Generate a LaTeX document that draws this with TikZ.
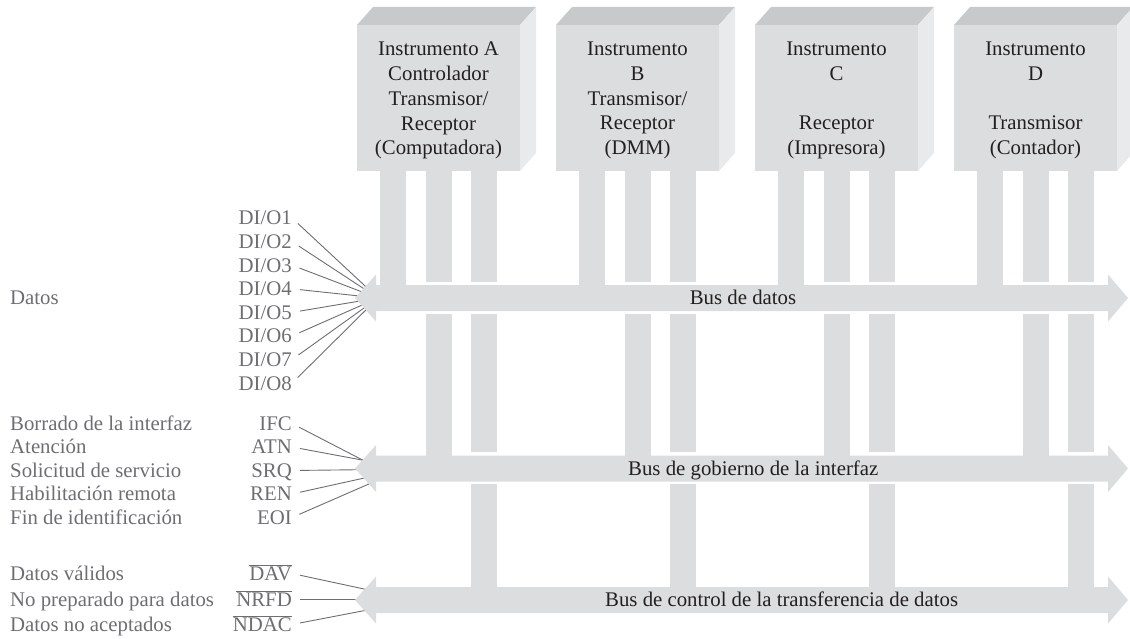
\documentclass[tikz,border=0pt]{standalone}
\usepackage{fontspec}
\setmainfont{Liberation Serif}
\definecolor{barfill}{RGB}{220,221,222}
\definecolor{topface}{RGB}{200,201,203}
\definecolor{sideface}{RGB}{233,234,235}
\definecolor{labelgray}{RGB}{109,110,113}
\definecolor{darktext}{RGB}{35,31,32}
\newcommand\gpibfont{\fontsize{20.8}{24.7}\selectfont}
% instrument box: #1 = left x of front face, #2 = node name, #3 = text
\newcommand\instbox[3]{%
  \fill[barfill] (#1,25) rectangle ++(163,146);
  \fill[topface] (#1,25) -- ++(16,-18) -- ++(163,0) -- ++(-16,18) -- cycle;
  \fill[sideface] (#1+163,25) -- ++(16,-18) -- ++(0,146) -- ++(-16,18) -- cycle;
  \node[boxtext] (#2) at (#1+81.5,42) {#3};
  % leg to data bus
  \fill[barfill] (#1+23,171) rectangle (#1+49,286);
  % leg to management bus
  \fill[barfill] (#1+69,171) rectangle (#1+95,282);
  \fill[barfill] (#1+69,314) rectangle (#1+95,456);
  % leg to transfer control bus
  \fill[barfill] (#1+114,171) rectangle (#1+140,282);
  \fill[barfill] (#1+114,314) rectangle (#1+140,452);
  \fill[barfill] (#1+114,484) rectangle (#1+140,588);
}
% double-headed bus arrow centred at y = #1
\newcommand\busarrow[1]{%
  \fill[barfill] (355,#1) -- (376,#1-23.5) -- (376,#1-13) -- (1108,#1-13)
    -- (1108,#1-23.5) -- (1128,#1) -- (1108,#1+23.5) -- (1108,#1+13)
    -- (376,#1+13) -- (376,#1+23.5) -- cycle;
}
\begin{document}
\begin{tikzpicture}[x=1pt,y=-1pt,
  boxtext/.style={anchor=north,inner sep=0pt,align=center,text=darktext,font=\gpibfont},
  bustext/.style={inner sep=0pt,text=darktext,font=\gpibfont,text height=13.8pt,text depth=0pt},
  desc/.style={anchor=west,inner sep=0pt,text=labelgray,font=\gpibfont,text height=13.8pt,text depth=0pt},
  sig/.style={anchor=east,inner sep=0pt,text=labelgray,font=\gpibfont,text height=13.8pt,text depth=0pt},
  conn/.style={draw=labelgray,line width=0.9pt,shorten <=8pt}]
\useasboundingbox (0,0) rectangle (1130,639);

% signal lines (drawn first, ends hidden under arrow heads)
\coordinate (dtip) at (378,298);
\coordinate (gIFC) at (378,468);
\coordinate (gATN) at (378,463);
\coordinate (gSRQ) at (378,469.5);
\coordinate (gREN) at (378,475);
\coordinate (gEOI) at (378,480);
\coordinate (cDAV) at (378,592);
\coordinate (cNRFD) at (378,599.5);
\coordinate (cNDAC) at (378,608);

\foreach \k in {1,...,8} {
  \node[sig] (dio\k) at (292,{218+23.6*(\k-1)}) {DI/O\k};
  \draw[conn] (dio\k.east) -- (dtip);
}
\node[desc] (datos) at (10,298) {Datos};

\node[sig] (ifc) at (292,423.5) {IFC};
\node[sig] (atn) at (292,447) {ATN};
\node[sig] (srq) at (292,470.5) {SRQ};
\node[sig] (ren) at (292,494) {REN};
\node[sig] (eoi) at (292,517.5) {EOI};
\draw[conn] (ifc.east) -- (gIFC);
\draw[conn] (atn.east) -- (gATN);
\draw[conn] (srq.east) -- (gSRQ);
\draw[conn] (ren.east) -- (gREN);
\draw[conn] (eoi.east) -- (gEOI);
\node[desc] (difc) at (10,423.5) {Borrado de la interfaz};
\node[desc] (datn) at (10,447) {Atención};
\node[desc] (dsrq) at (10,470.5) {Solicitud de servicio};
\node[desc] (dren) at (10,494) {Habilitación remota};
\node[desc] (deoi) at (10,517.5) {Fin de identificación};

\node[sig] (dav) at (292,573.5) {$\overline{\hbox{DAV}}$};
\node[sig] (nrfd) at (292,599.5) {$\overline{\hbox{NRFD}}$};
\node[sig] (ndac) at (292,624.5) {$\overline{\hbox{NDAC}}$};
\draw[conn] (dav.east) -- (cDAV);
\draw[conn] (nrfd.east) -- (cNRFD);
\draw[conn] (ndac.east) -- (cNDAC);
\node[desc] (ddav) at (10,573.5) {Datos válidos};
\node[desc] (dnrfd) at (10,599.5) {No preparado para datos};
\node[desc] (dndac) at (10,624.5) {Datos no aceptados};

% buses
\busarrow{298}
\busarrow{468.5}
\busarrow{600}

% instruments
\instbox{357}{instA}{Instrumento A\\Controlador\\Transmisor/\\Receptor\\(Computadora)}
\instbox{556}{instB}{Instrumento\\B\\Transmisor/\\Receptor\\(DMM)}
\instbox{755}{instC}{Instrumento\\C\\[24.7pt]Receptor\\(Impresora)}
\instbox{954}{instD}{Instrumento\\D\\[24.7pt]Transmisor\\(Contador)}

% bus labels
\node[bustext] (busdatos) at (743,298) {Bus de datos};
\node[bustext,anchor=west] (busgob) at (628,468.5) {Bus de gobierno de la interfaz};
\node[bustext,anchor=west] (busctl) at (605,600) {Bus de control de la transferencia de datos};
\end{tikzpicture}
\end{document}
